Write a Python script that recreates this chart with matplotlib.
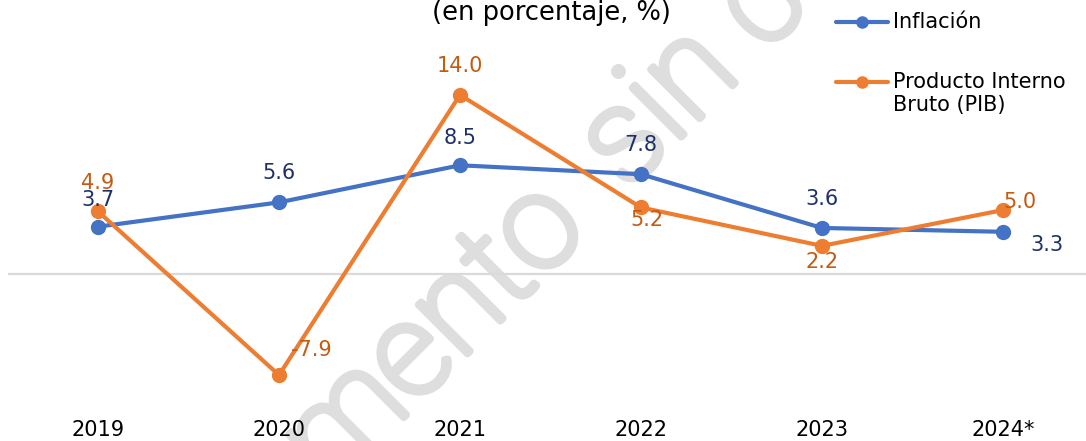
import matplotlib
matplotlib.use("Agg")
import matplotlib.pyplot as plt
import matplotlib.patheffects as pe
from matplotlib.lines import Line2D

# Datos
anios = ["2019", "2020", "2021", "2022", "2023", "2024*"]
inflacion = [3.7, 5.6, 8.5, 7.8, 3.6, 3.3]
pib = [4.9, -7.9, 14.0, 5.2, 2.2, 5.0]

COL_INF = "#4472c4"
COL_PIB = "#ed7d31"
COL_INF_TXT = "#1f3068"
COL_PIB_TXT = "#c55a11"
COL_GRIS = "#a6a6a6"
COL_MARCA = "#dedede"

plt.rcParams["font.family"] = "DejaVu Sans"

W, H = 1086, 441
fig = plt.figure(figsize=(W / 100, H / 100), dpi=100)
ax = fig.add_axes([7.5 / W, 31 / H, 1086 / W, 410 / H])
ax.patch.set_visible(False)

x = list(range(len(anios)))


def px(xp, yp):
    # pixeles (desde arriba a la izquierda) -> fraccion de figura
    return xp / W, 1 - yp / H


# marca de agua en dos partes (trazo fino engrosado con un contorno)
contorno = [pe.withStroke(linewidth=5.5, foreground=COL_MARCA)]
ax.text(*px(590, 231), "Documento", transform=fig.transFigure,
        rotation=45, rotation_mode="anchor", ha="right", va="baseline",
        fontsize=94, color=COL_MARCA, family="Roboto", fontweight="light",
        path_effects=contorno, zorder=0)
ax.text(*px(627, 191), "sin control", transform=fig.transFigure,
        rotation=45, rotation_mode="anchor", ha="left", va="baseline",
        fontsize=94, color=COL_MARCA, family="Roboto", fontweight="light",
        path_effects=contorno, zorder=0)

ax.axhline(0, color="#d9d9d9", linewidth=1.6, zorder=1)

ax.plot(x, inflacion, color=COL_INF, linewidth=3, marker="o",
        markersize=10, zorder=3, solid_capstyle="round")
ax.plot(x, pib, color=COL_PIB, linewidth=3, marker="o",
        markersize=10, zorder=4, solid_capstyle="round")

# desplazamiento de etiquetas en pixeles (dx, dy)
off_inf = [(0, 27), (0, 29), (0, 27), (0, 29), (0, 29), (44, -13)]
off_pib = [(0, 28), (32, 25), (0, 29), (6, -13), (0, -16), (17, 8)]

for xi, v, (dx, dy) in zip(x, inflacion, off_inf):
    ax.annotate(f"{v:.1f}", (xi, v), xytext=(dx * 0.72, dy * 0.72),
                textcoords="offset points", ha="center", va="center",
                fontsize=15, color=COL_INF_TXT, zorder=5)
for xi, v, (dx, dy) in zip(x, pib, off_pib):
    ax.annotate(f"{v:.1f}", (xi, v), xytext=(dx * 0.72, dy * 0.72),
                textcoords="offset points", ha="center", va="center",
                fontsize=15, color=COL_PIB_TXT, zorder=5)

# lineas guia
pt = ax.transData.transform((1, pib[1]))
fig.add_artist(Line2D([pt[0] / W, (pt[0] + 31) / W],
                      [pt[1] / H, (pt[1] + 13) / H],
                      color=COL_GRIS, linewidth=1.2, zorder=2))
pt = ax.transData.transform((5, inflacion[5]))
fig.add_artist(Line2D([(pt[0] + 3) / W, (pt[0] + 7) / W, (pt[0] + 19) / W],
                      [(pt[1] - 4) / H, (pt[1] - 12) / H, (pt[1] - 12) / H],
                      color=COL_GRIS, linewidth=1.2, zorder=2))

ax.set_xlim(-0.5, 5.5)
ax.set_ylim(-10.63, 21.42)
ax.set_xticks(x)
ax.set_xticklabels(anios, fontsize=15, color="#000000")
ax.tick_params(axis="x", length=0, pad=7)
ax.set_yticks([])
for s in ax.spines.values():
    s.set_visible(False)

fig.text(*px(551, 19.5), "(en porcentaje, %)", ha="center",
         va="baseline", fontsize=18.5, color="#000000")

# leyenda
for yy, col, lineas in [(22, COL_INF, ["Inflación"]),
                        (82, COL_PIB, ["Producto Interno", "Bruto (PIB)"])]:
    fig.add_artist(Line2D([836 / W, 888 / W], [1 - yy / H] * 2, color=col,
                          linewidth=3, solid_capstyle="round"))
    fig.add_artist(Line2D([862 / W], [1 - yy / H], color=col, marker="o",
                          markersize=8))
    for i, t in enumerate(lineas):
        fig.text(*px(893, yy + 23 * i), t, ha="left", va="center",
                 fontsize=15, color="#000000")

fig.savefig("out.png", dpi=100)
